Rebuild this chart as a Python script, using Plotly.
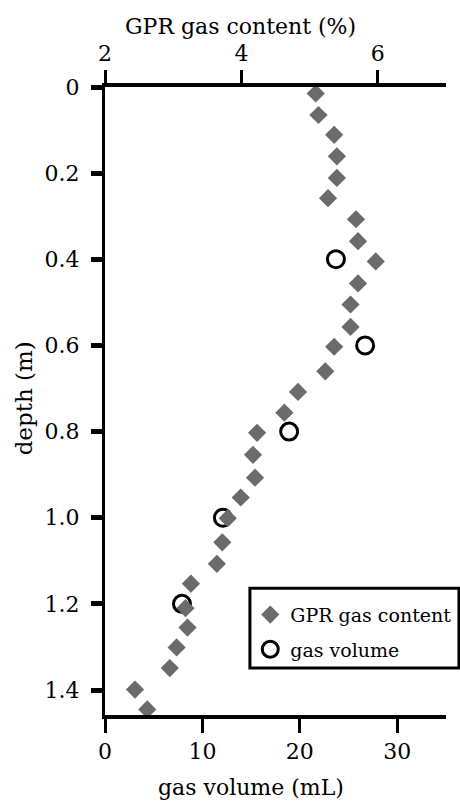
import plotly.graph_objects as go

# GPR gas content (%) vs depth (m)
gpr_depth = [0.015, 0.065, 0.111, 0.161, 0.211, 0.258, 0.307, 0.358, 0.405, 0.456,
             0.505, 0.557, 0.603, 0.660, 0.708, 0.756, 0.803, 0.854, 0.907, 0.953,
             1.001, 1.057, 1.107, 1.153, 1.210, 1.255, 1.301, 1.349, 1.399, 1.445]
gpr_content = [5.09, 5.13, 5.36, 5.40, 5.40, 5.27, 5.68, 5.71, 5.97, 5.71,
               5.60, 5.60, 5.36, 5.23, 4.83, 4.63, 4.23, 4.17, 4.20, 3.99,
               3.80, 3.72, 3.64, 3.26, 3.18, 3.21, 3.05, 2.95, 2.44, 2.62]

# measured gas volume (mL) vs depth (m)
vol_depth = [0.4, 0.6, 0.8, 1.0, 1.2]
vol_ml = [23.7, 26.7, 18.9, 12.1, 7.9]

depth_ticks = [0, 0.2, 0.4, 0.6, 0.8, 1.0, 1.2, 1.4]
depth_labels = ["0", "0.2", "0.4", "0.6", "0.8", "1.0", "1.2", "1.4"]
vol_ticks = [0, 10, 20, 30]
content_ticks = [2, 4, 6]

FONT = "DejaVu Serif"

fig = go.Figure()
fig.add_trace(go.Scatter(
    x=gpr_content, y=gpr_depth, xaxis="x2", yaxis="y", mode="markers",
    name="GPR gas content", legendgroup="a",
    marker=dict(symbol="diamond", size=14, color="#6b6b6b", line=dict(width=0)),
))
fig.add_trace(go.Scatter(
    x=vol_ml, y=vol_depth, xaxis="x", yaxis="y", mode="markers",
    name="gas volume", legendgroup="b",
    marker=dict(symbol="circle", size=17, color="white", line=dict(width=3, color="black")),
))

axis_common = dict(showgrid=False, zeroline=False, showline=True, linecolor="black",
                   ticks="outside", tickcolor="black",
                   tickfont=dict(family=FONT, size=22, color="black"))

fig.update_layout(
    width=460, height=804,
    margin=dict(l=105, r=14, t=87, b=89, autoexpand=False),
    paper_bgcolor="white", plot_bgcolor="white",
    font=dict(family=FONT, color="black"),
    xaxis=dict(range=[0, 35], tickvals=vol_ticks, linewidth=4, ticklen=14, tickwidth=3,
               anchor="y", side="bottom", **axis_common),
    xaxis2=dict(range=[2, 7], tickvals=content_ticks, linewidth=4, ticklen=13, tickwidth=3,
                overlaying="x", anchor="y", side="top", **axis_common),
    yaxis=dict(range=[1.458, 0], tickvals=depth_ticks, ticktext=depth_labels,
               linewidth=3, ticklen=11, tickwidth=5, ticklabelstandoff=7, **axis_common),
    showlegend=True,
    legend=dict(x=0.426, y=0.190, xanchor="left", yanchor="top",
                bgcolor="rgba(0,0,0,0)", borderwidth=0,
                tracegroupgap=7,
                font=dict(family=FONT, size=19, color="black")),
    shapes=[
        dict(type="rect", xref="paper", yref="paper",
             x0=0.425, x1=1.038, y0=0.0747, y1=0.202,
             line=dict(color="black", width=3), fillcolor="white", layer="below"),
    ],
    annotations=[
        dict(text="GPR gas content (%)", xref="paper", yref="paper",
             x=0.396, y=1.097, xanchor="center", yanchor="middle", showarrow=False,
             font=dict(family=FONT, size=22, color="black")),
        dict(text="gas volume (mL)", xref="paper", yref="paper",
             x=0.428, y=-0.116, xanchor="center", yanchor="middle", showarrow=False,
             font=dict(family=FONT, size=22, color="black")),
        dict(text="depth (m)", xref="paper", yref="paper", textangle=-90,
             x=-0.235, y=0.504, xanchor="center", yanchor="middle", showarrow=False,
             font=dict(family=FONT, size=23, color="black")),
    ],
)

fig.write_html("out.html")
